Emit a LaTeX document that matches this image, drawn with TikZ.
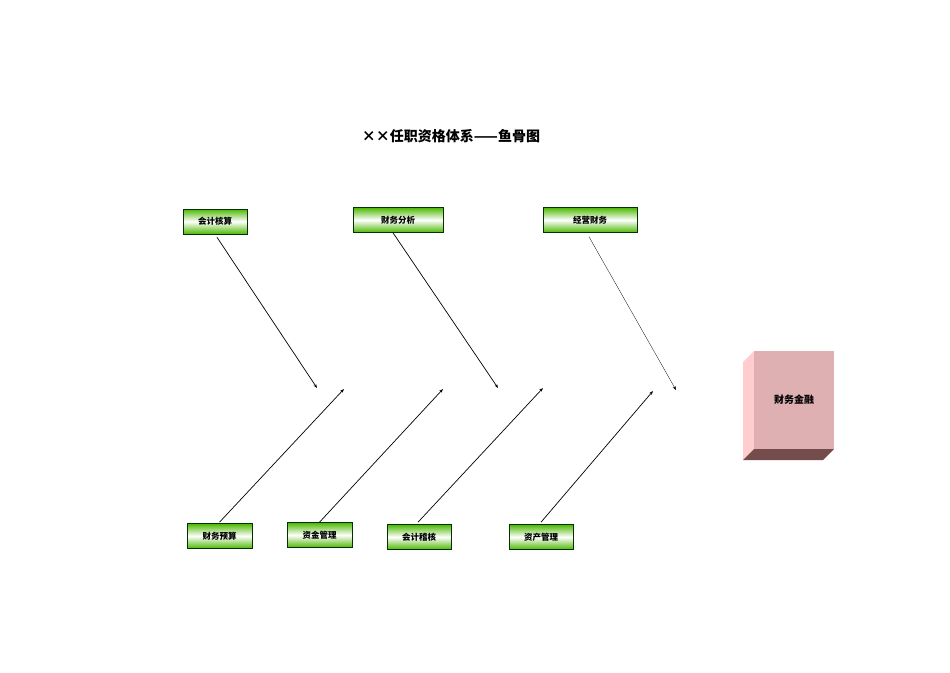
\documentclass[tikz,border=0pt]{standalone}
\usepackage{fontspec}
\newfontfamily\cjk{Noto Sans CJK SC}
\usetikzlibrary{arrows.meta}
\tikzset{
 bone/.style={draw=black!80!green,line width=0.6pt,top color=green!60!black!70!yellow,bottom color=green!60!black!70!yellow,middle color=white,minimum height=25pt,inner sep=0pt,font=\cjk\bfseries\fontsize{8.5}{9}\selectfont},
 arr/.style={-{Stealth[length=4pt,width=3pt]},line width=0.7pt},
}
\begin{document}
\begin{tikzpicture}[x=1pt,y=-1pt]
\useasboundingbox (0,0) rectangle (950,672);
\node[font=\cjk\bfseries\fontsize{14}{16}\selectfont] (title) at (451,136) {××任职资格体系——鱼骨图};
\node[bone,minimum width=64pt] (a) at (215,221.5) {会计核算};
\node[bone,minimum width=90pt] (b) at (398,220) {财务分析};
\node[bone,minimum width=94pt] (c) at (590,220) {经营财务};
\node[bone,minimum width=65pt] (d) at (219.5,536) {财务预算};
\node[bone,minimum width=65pt] (e) at (319.5,535) {资金管理};
\node[bone,minimum width=64pt] (f) at (419,537) {会计稽核};
\node[bone,minimum width=64pt] (g) at (541,537) {资产管理};
\coordinate (pa) at (317,388);
\coordinate (pb) at (498,388);
\coordinate (pc) at (676,390);
\coordinate (pd) at (344,389);
\coordinate (pe) at (443,389);
\coordinate (pf) at (543,388);
\coordinate (pg) at (653,391);
\draw[arr] ([shift={(2,3)}]a.south) -- (pa);
\draw[arr] ([shift={(-5,0)}]b.south) -- (pb);
\draw[arr,line width=0.3pt] ([shift={(-1,4)}]c.south) -- (pc);
\draw[arr] ([shift={(0,-1)}]d.north) -- (pd);
\draw[arr] (e.north) -- (pe);
\draw[arr] ([shift={(-1,-2)}]f.north) -- (pf);
\draw[arr] ([shift={(0,-2)}]g.north) -- (pg);
% box
\fill[pink!90!red!60!white] (743,362) -- (754,351) -- (754,449) -- (743,460) -- cycle;
\fill[black!60!red!40!gray] (743,460) -- (754,449) -- (834,449) -- (823,460) -- cycle;
\node[fill={rgb,255:red,222;green,176;blue,178},minimum width=80pt,minimum height=98pt,inner sep=0pt,font=\cjk\bfseries\fontsize{10}{12}\selectfont] (box) at (794,400) {财务金融};
\end{tikzpicture}
\end{document}
